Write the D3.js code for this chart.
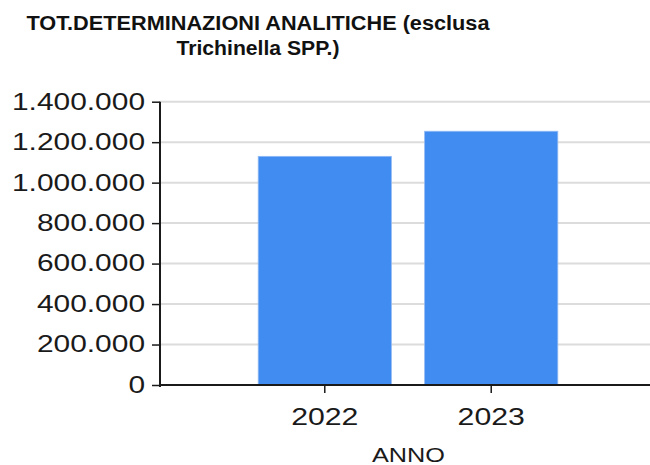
<!DOCTYPE html>
<html><head><meta charset="utf-8">
<script src="https://cdn.jsdelivr.net/npm/d3@7"></script>
<style>body{margin:0;background:#fff}svg{display:block}text{font-family:"Liberation Sans",Arial,sans-serif}</style>
</head><body><svg id="c" width="650" height="465"></svg>
<script>
const titleLines = ["TOT.DETERMINAZIONI ANALITICHE (esclusa", "Trichinella SPP.)"];
const categories = ["2022", "2023"];
const values = [1130000, 1254000];
const yTicks = [0, 200000, 400000, 600000, 800000, 1000000, 1200000, 1400000];
const xTitle = "ANNO";

const svg = d3.select("#c");
const it = d3.formatLocale({decimal: ",", thousands: ".", grouping: [3], currency: ["", "€"]});
const fmt = it.format(",d");

const x0 = 160, x1 = 650, yTop = 101.7, yBot = 385;
const x = d3.scaleBand().domain(categories).range([x0, 656]).paddingInner(0.2).paddingOuter(0.59);
const y = d3.scaleLinear().domain([0, 1400000]).range([yBot, yTop]);

function stretch(sel, k) {
  sel.each(function () { const w = this.getComputedTextLength(); d3.select(this).attr("textLength", w * k).attr("lengthAdjust", "spacingAndGlyphs"); });
}

// gridlines
svg.append("g").selectAll("line").data(yTicks.filter(d => d > 0)).join("line")
  .attr("x1", x0).attr("x2", x1).attr("y1", d => y(d)).attr("y2", d => y(d))
  .attr("stroke", "#dcdcdc").attr("stroke-width", 2);

// bars
svg.append("g").selectAll("rect").data(values).join("rect")
  .attr("x", (d, i) => x(categories[i])).attr("width", x.bandwidth())
  .attr("y", d => y(d)).attr("height", d => yBot - y(d))
  .attr("fill", "#418cf0").attr("stroke", "#8fb9f5").attr("stroke-width", 0.8);

// y axis
const ga = svg.append("g").attr("transform", `translate(${x0},0)`)
  .call(d3.axisLeft(y).tickValues(yTicks).tickFormat(fmt).tickSize(8).tickPadding(7));
ga.select(".domain").attr("stroke", "#1a1a1a").attr("stroke-width", 2).attr("d", `M0,${yTop}V${yBot + 2}`);
ga.selectAll(".tick line").attr("stroke", "#1a1a1a").attr("stroke-width", 1.5);
ga.selectAll("text").attr("font-size", 23).attr("fill", "#1a1a1a").attr("font-family", "Liberation Sans, Arial, sans-serif").call(stretch, 1.3);

// x axis
const gx = svg.append("g").attr("transform", `translate(0,${yBot})`)
  .call(d3.axisBottom(x).tickSize(8).tickSizeOuter(0));
gx.select(".domain").attr("stroke", "#1a1a1a").attr("stroke-width", 2).attr("d", `M${x0 - 1},0H${x1}`);
gx.selectAll(".tick line").attr("stroke", "#1a1a1a").attr("stroke-width", 1.5);
gx.selectAll("text").attr("y", 40).attr("dy", 0).attr("font-size", 24).attr("fill", "#1a1a1a")
  .attr("font-family", "Liberation Sans, Arial, sans-serif").call(stretch, 1.26);

// axis title
svg.append("text").attr("x", 408.5).attr("y", 461.5).attr("text-anchor", "middle")
  .attr("font-size", 20).attr("fill", "#1a1a1a").text(xTitle)
  .attr("textLength", 73).attr("lengthAdjust", "spacingAndGlyphs");

// title
const tw = [463, 163];
svg.append("g").selectAll("text").data(titleLines).join("text")
  .attr("x", 258).attr("y", (d, i) => 30 + i * 25).attr("text-anchor", "middle")
  .attr("font-size", 20).attr("font-weight", "bold").attr("fill", "#111")
  .text(d => d).attr("textLength", (d, i) => tw[i]).attr("lengthAdjust", "spacingAndGlyphs");
</script></body></html>
